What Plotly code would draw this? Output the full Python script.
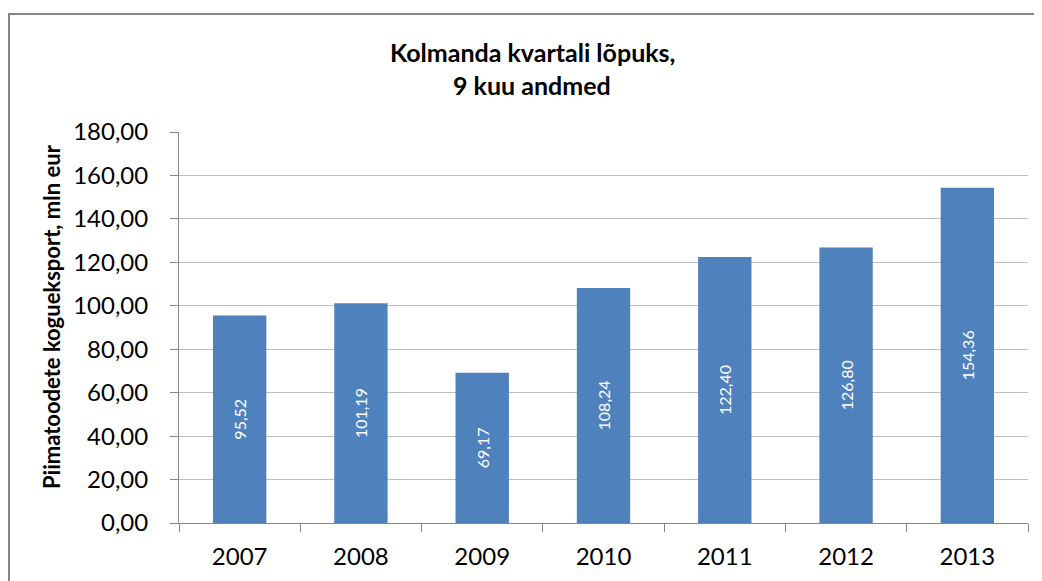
import plotly.graph_objects as go

# Piimatoodete koguekspordi andmed, 9 kuud
years = ["2007", "2008", "2009", "2010", "2011", "2012", "2013"]
export_mln_eur = [95.52, 101.19, 69.17, 108.24, 122.40, 126.80, 154.36]
y_ticks = [0, 20, 40, 60, 80, 100, 120, 140, 160, 180]

BAR_COLOR = "#4f81bd"
GRID_COLOR = "#bfbfbf"
AXIS_COLOR = "#868686"
FONT = "Lato, Carlito, Calibri, sans-serif"

# the html page puts the figure 8px in from the top-left corner
OFF = 8
W, H = 1042, 581
# plot area in window pixels: x 179..1028, y 132..523
L = 179 - OFF
T = 132 - OFF
R = W - (1028 - OFF)
B = H - (523 - OFF)
plot_w = W - L - R
plot_h = H - T - B


def px_to_paper_x(px):
    # px is a window coordinate
    return (px - OFF - L) / plot_w


def px_to_paper_y(py):
    return (H - B - (py - OFF)) / plot_h


fig = go.Figure(
    go.Bar(
        x=years,
        y=export_mln_eur,
        marker=dict(color=BAR_COLOR, line=dict(width=0)),
        texttemplate="%{y:.2f}",
        textposition="inside",
        insidetextanchor="middle",
        textangle=-90,
        textfont=dict(color="white", size=16, family=FONT),
        hoverinfo="x+y",
    )
)

title_font = dict(size=25, family=FONT, color="black")

fig.update_layout(
    width=W,
    height=H,
    margin=dict(l=L, r=R, t=T, b=B),
    paper_bgcolor="white",
    plot_bgcolor="white",
    separators=", ",
    bargap=0.56,
    showlegend=False,
    font=dict(family=FONT, color="black"),
    xaxis=dict(
        type="category",
        tickson="boundaries",
        ticks="outside",
        ticklen=8,
        tickcolor=AXIS_COLOR,
        showline=True,
        linecolor=AXIS_COLOR,
        linewidth=1,
        showgrid=False,
        tickfont=dict(size=24, family=FONT, color="black"),
        ticklabelstandoff=12,
    ),
    yaxis=dict(
        range=[0, 180],
        tickvals=y_ticks,
        tickformat=".2f",
        ticks="outside",
        ticklen=8,
        tickcolor=AXIS_COLOR,
        showline=True,
        linecolor=AXIS_COLOR,
        linewidth=1,
        showgrid=True,
        gridcolor=GRID_COLOR,
        gridwidth=1,
        zeroline=False,
        tickfont=dict(size=24, family=FONT, color="black"),
        ticklabelstandoff=17,
    ),
    annotations=[
        dict(
            text="<b>Kolmanda kvartali lõpuks,</b>",
            xref="paper",
            yref="paper",
            x=px_to_paper_x(532),
            y=px_to_paper_y(52),
            xanchor="center",
            yanchor="middle",
            showarrow=False,
            font=title_font,
        ),
        dict(
            text="<b>9 kuu andmed</b>",
            xref="paper",
            yref="paper",
            x=px_to_paper_x(532),
            y=px_to_paper_y(85),
            xanchor="center",
            yanchor="middle",
            showarrow=False,
            font=title_font,
        ),
        dict(
            text="<b>Piimatoodete kogueksport, mln eur</b>",
            textangle=-90,
            xref="paper",
            yref="paper",
            x=px_to_paper_x(51),
            y=px_to_paper_y(317),
            xanchor="center",
            yanchor="middle",
            showarrow=False,
            font=dict(size=22, family=FONT, color="black"),
        ),
    ],
    shapes=[
        # chart area border: only its top and left edges are in view
        dict(
            type="line",
            xref="paper",
            yref="paper",
            x0=px_to_paper_x(8),
            y0=px_to_paper_y(14),
            x1=px_to_paper_x(1042),
            y1=px_to_paper_y(14),
            line=dict(color=AXIS_COLOR, width=2),
            layer="below",
        ),
        dict(
            type="line",
            xref="paper",
            yref="paper",
            x0=px_to_paper_x(9),
            y0=px_to_paper_y(13),
            x1=px_to_paper_x(9),
            y1=px_to_paper_y(581),
            line=dict(color=AXIS_COLOR, width=2),
            layer="below",
        ),
    ],
)

fig.write_html("out.html")
